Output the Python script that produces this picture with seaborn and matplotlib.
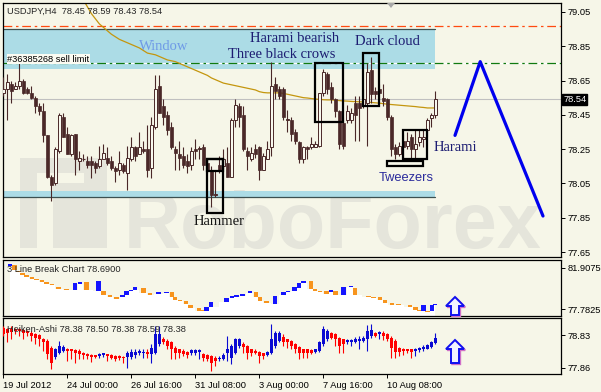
import numpy as np
import matplotlib
matplotlib.use("Agg")
import matplotlib.pyplot as plt
import matplotlib.transforms as mtransforms
from matplotlib.patches import Rectangle, Polygon
import seaborn as sns

sns.set_theme(style="white")
plt.rcParams["font.family"] = ["Liberation Sans", "DejaVu Sans"]

# ---------------- data ----------------
symbol_header = "USDJPY,H4  78.45 78.59 78.43 78.54"
date_labels = ["19 Jul 2012", "24 Jul 00:00", "26 Jul 16:00", "31 Jul 08:00",
               "3 Aug 00:00", "7 Aug 16:00", "10 Aug 08:00"]
date_bars = [0, 16, 32, 48, 64, 80, 96]

opens = [78.58, 78.60, 78.63, 78.60, 78.62, 78.65, 78.60, 78.58, 78.55, 78.50,
         78.47, 78.33, 78.09, 78.05, 78.24, 78.44, 78.34, 78.22, 78.34, 78.18,
         78.19, 78.18, 78.18, 78.17, 78.15, 78.19, 78.20, 78.18, 78.14, 78.13,
         78.16, 78.11, 78.19, 78.26, 78.22, 78.25, 78.25, 78.14, 78.38, 78.62,
         78.50, 78.45, 78.38, 78.25, 78.22, 78.21, 78.18, 78.16, 78.25, 78.25,
         78.26, 78.17, 78.13, 77.98, 78.16, 78.15, 78.17, 78.09, 78.42, 78.50,
         78.45, 78.24, 78.19, 78.25, 78.26, 78.13, 78.19, 78.26, 78.63, 78.60,
         78.60, 78.42, 78.42, 78.35, 78.29, 78.19, 78.26, 78.26, 78.26, 78.27,
         78.58, 78.69, 78.61, 78.54, 78.47, 78.40, 78.42, 78.42, 78.52, 78.52,
         78.50, 78.52, 78.71, 78.59, 78.60, 78.55, 78.54, 78.44, 78.26, 78.22,
         78.30, 78.27, 78.32, 78.25, 78.29, 78.31, 78.36, 78.43, 78.45]
highs = [78.67, 78.69, 78.65, 78.64, 78.76, 78.66, 78.61, 78.62, 78.56, 78.52,
         78.52, 78.33, 78.10, 78.26, 78.46, 78.46, 78.38, 78.34, 78.34, 78.24,
         78.22, 78.21, 78.21, 78.18, 78.27, 78.28, 78.26, 78.21, 78.15, 78.24,
         78.17, 78.27, 78.32, 78.27, 78.35, 78.30, 78.39, 78.44, 78.68, 78.68,
         78.54, 78.47, 78.41, 78.27, 78.30, 78.26, 78.22, 78.26, 78.31, 78.27,
         78.28, 78.19, 78.15, 78.13, 78.21, 78.25, 78.26, 78.43, 78.54, 78.52,
         78.50, 78.26, 78.26, 78.28, 78.27, 78.23, 78.30, 78.76, 78.67, 78.62,
         78.61, 78.48, 78.44, 78.37, 78.30, 78.27, 78.27, 78.32, 78.30, 78.58,
         78.72, 78.70, 78.64, 78.55, 78.48, 78.44, 78.51, 78.49, 78.56, 78.56,
         78.60, 78.75, 78.79, 78.61, 78.63, 78.63, 78.55, 78.45, 78.28, 78.29,
         78.34, 78.35, 78.34, 78.36, 78.36, 78.36, 78.43, 78.46, 78.59]
lows = [78.56, 78.42, 78.52, 78.60, 78.60, 78.57, 78.57, 78.54, 78.46, 78.45,
        78.29, 78.08, 77.95, 78.04, 78.23, 78.32, 78.22, 78.21, 78.10, 78.13,
        78.18, 78.14, 78.08, 78.11, 78.14, 78.19, 78.16, 78.13, 78.06, 78.10,
        78.11, 78.01, 78.18, 78.18, 78.22, 78.23, 78.09, 78.08, 78.37, 78.46,
        78.39, 78.33, 78.25, 78.13, 78.13, 78.14, 78.11, 78.13, 78.19, 78.19,
        78.13, 78.11, 77.91, 77.97, 78.11, 78.14, 78.09, 78.09, 78.38, 78.38,
        78.24, 78.13, 78.18, 78.20, 78.07, 78.13, 78.19, 78.21, 78.54, 78.54,
        78.42, 78.35, 78.30, 78.28, 78.17, 78.17, 78.19, 78.25, 78.26, 78.26,
        78.56, 78.57, 78.52, 78.44, 78.25, 78.25, 78.40, 78.40, 78.30, 78.30,
        78.49, 78.27, 78.52, 78.54, 78.54, 78.50, 78.42, 78.21, 78.19, 78.21,
        78.19, 78.25, 78.19, 78.19, 78.27, 78.26, 78.32, 78.38, 78.43]
closes = [78.60, 78.64, 78.59, 78.62, 78.65, 78.58, 78.58, 78.55, 78.50, 78.47,
          78.33, 78.09, 78.04, 78.25, 78.45, 78.32, 78.22, 78.33, 78.19, 78.20,
          78.19, 78.16, 78.16, 78.14, 78.19, 78.23, 78.17, 78.14, 78.12, 78.17,
          78.12, 78.20, 78.26, 78.21, 78.26, 78.24, 78.13, 78.39, 78.60, 78.46,
          78.44, 78.36, 78.26, 78.23, 78.20, 78.16, 78.15, 78.24, 78.24, 78.25,
          78.16, 78.12, 77.98, 77.99, 78.12, 78.19, 78.09, 78.42, 78.51, 78.44,
          78.25, 78.21, 78.23, 78.22, 78.13, 78.21, 78.25, 78.62, 78.59, 78.56,
          78.44, 78.42, 78.34, 78.30, 78.19, 78.26, 78.25, 78.28, 78.28, 78.58,
          78.70, 78.60, 78.54, 78.47, 78.28, 78.27, 78.47, 78.46, 78.45, 78.49,
          78.54, 78.70, 78.57, 78.57, 78.58, 78.53, 78.44, 78.25, 78.22, 78.27,
          78.26, 78.30, 78.25, 78.28, 78.32, 78.32, 78.42, 78.45, 78.54]

ma_first_bar = 20
ma_values = [79.12, 79.08, 79.04, 79.01, 78.98, 78.96, 78.94, 78.92, 78.905, 78.89,
             78.88, 78.87, 78.86, 78.85, 78.84, 78.825, 78.81, 78.805, 78.80, 78.79,
             78.78, 78.77, 78.765, 78.76, 78.75, 78.74, 78.73, 78.72, 78.71, 78.70,
             78.69, 78.68, 78.665, 78.655, 78.645, 78.635, 78.63, 78.625, 78.62, 78.615,
             78.61, 78.605, 78.60, 78.595, 78.585, 78.58, 78.578, 78.578, 78.578, 78.578,
             78.575, 78.57, 78.565, 78.56, 78.555, 78.55, 78.548, 78.545, 78.542, 78.54,
             78.538, 78.537, 78.537, 78.535, 78.533, 78.531, 78.53, 78.528, 78.527, 78.526,
             78.525, 78.524, 78.522, 78.52, 78.518, 78.515, 78.512, 78.51, 78.508, 78.506,
             78.504, 78.502, 78.50, 78.498, 78.495, 78.493, 78.49, 78.49, 78.49]

# levels and zones
stop_level = 78.97
order_level = 78.75
last_price = 78.54
window_zone = (78.72, 78.95)
support_zone = (77.97, 78.006)
zone_end_bar = 107.9

# pattern boxes: (first bar, last bar, low, high)
pattern_boxes = {
    "crows": (77.9, 84.9, 78.41, 78.75),
    "darkcloud": (89.9, 93.9, 78.50, 78.81),
    "hammer": (50.9, 54.9, 77.88, 78.19),
    "hammer_top": (50.9, 54.9, 78.12, 78.19),
    "tweezers": (95.8, 105.0, 78.15, 78.18),
    "harami": (100.0, 106.0, 78.19, 78.36),
}
forecast_bars = [112.9, 119.2, 134.9]
forecast_prices = [78.33, 78.76, 77.86]

# 3 Line Break bricks
lb_bar = [1.7, 2.8, 3.8, 4.8, 5.8, 7.1, 8.3, 9.6, 10.8, 12.1, 13.8, 15.8, 17.9, 19.2, 20.8,
          23.8, 25.0, 26.7, 28.3, 29.8, 30.8, 31.9, 32.9, 35.0, 36.7, 38.8, 40.8, 42.1, 42.9,
          44.2, 45.6, 46.8, 48.9, 49.8, 50.8, 51.9, 55.8, 57.1, 58.3, 59.8, 61.7, 63.2, 64.2,
          65.8, 67.9, 70.0, 71.2, 72.8, 73.9, 75.0, 76.9, 77.9, 79.2, 80.8, 81.9, 83.0, 85.0,
          86.9, 87.9, 91.3, 92.5, 94.2, 95.4, 97.1, 98.8, 101.7, 103.0, 104.0, 105.0, 106.0,
          107.1, 107.9]
lb_open = [82.08, 82.18, 81.64, 81.40, 81.17, 81.00, 80.83, 80.67, 80.50, 80.33, 80.00, 79.83,
           79.73, 80.33, 80.50, 79.63, 79.63, 79.16, 78.96, 78.96, 79.23, 79.56, 79.73, 79.90,
           79.39, 79.29, 79.36, 79.46, 78.96, 78.72, 78.55, 78.22, 77.88, 77.72, 77.62, 77.95,
           78.49, 78.89, 78.99, 79.12, 79.36, 79.46, 78.96, 78.55, 78.32, 79.16, 79.46, 79.56,
           79.90, 80.40, 80.63, 79.80, 79.63, 79.56, 79.46, 79.63, 79.16, 79.96, 79.90, 79.12,
           79.02, 78.96, 78.69, 78.39, 78.29, 78.15, 77.95, 77.72, 77.62, 77.62, 77.62, 78.19]
lb_close = [82.31, 81.74, 81.47, 81.24, 81.00, 80.83, 80.67, 80.50, 80.33, 80.16, 79.83, 79.66,
            80.40, 80.50, 79.73, 80.57, 79.23, 78.96, 78.82, 79.23, 79.56, 79.73, 79.96, 79.39,
            79.23, 79.46, 79.53, 78.96, 78.72, 78.55, 78.32, 77.88, 77.62, 77.55, 77.95, 78.45,
            78.89, 79.06, 79.16, 79.29, 79.56, 78.96, 78.55, 78.35, 79.12, 79.46, 79.63, 79.96,
            80.40, 80.63, 79.80, 79.56, 79.49, 79.29, 79.73, 79.23, 79.96, 80.13, 79.16, 78.96,
            78.89, 78.69, 78.39, 78.22, 78.15, 77.98, 77.68, 77.55, 78.15, 77.48, 78.22, 78.32]
lb_ticks = [81.9075, 77.7825]

# Heiken-Ashi
ha_open = [79.05, 79.00, 79.00, 79.02, 79.00, 78.98, 78.95, 78.90, 78.85, 78.82,
           78.72, 78.65, 78.46, 78.17, 78.29, 78.36, 78.43, 78.41, 78.39, 78.36,
           78.31, 78.26, 78.23, 78.23, 78.21, 78.23, 78.26, 78.23, 78.21, 78.21,
           78.19, 78.17, 78.19, 78.23, 78.29, 78.29, 78.33, 78.26, 78.31, 78.56,
           78.72, 78.65, 78.61, 78.46, 78.41, 78.36, 78.33, 78.29, 78.31, 78.34,
           78.26, 78.23, 78.21, 78.16, 78.12, 78.135, 78.31, 78.16, 78.31, 78.51,
           78.56, 78.51, 78.41, 78.36, 78.33, 78.29, 78.23, 78.31, 78.51, 78.65,
           78.78, 78.70, 78.65, 78.56, 78.49, 78.41, 78.41, 78.39, 78.33, 78.36,
           78.56, 78.70, 78.90, 78.85, 78.75, 78.70, 78.61, 78.61, 78.63, 78.64,
           78.65, 78.70, 78.80, 78.90, 78.85, 78.90, 78.85, 78.75, 78.65, 78.46,
           78.43, 78.41, 78.41, 78.36, 78.39, 78.41, 78.43, 78.49, 78.59]
ha_close = [78.85, 78.90, 78.92, 78.95, 78.94, 78.90, 78.88, 78.80, 78.75, 78.70,
            78.61, 78.26, 78.02, 78.41, 78.51, 78.49, 78.37, 78.35, 78.29, 78.27,
            78.23, 78.21, 78.19, 78.19, 78.26, 78.29, 78.21, 78.16, 78.12, 78.14,
            78.15, 78.29, 78.33, 78.33, 78.36, 78.33, 78.27, 78.46, 78.85, 78.85,
            78.61, 78.51, 78.41, 78.31, 78.29, 78.26, 78.23, 78.38, 78.38, 78.38,
            78.16, 78.12, 78.02, 78.07, 78.16, 78.23, 78.41, 78.51, 78.70, 78.70,
            78.49, 78.31, 78.29, 78.29, 78.21, 78.21, 78.33, 78.70, 78.90, 78.88,
            78.61, 78.61, 78.51, 78.41, 78.31, 78.31, 78.31, 78.31, 78.41, 78.61,
            79.00, 78.95, 78.75, 78.70, 78.51, 78.56, 78.68, 78.68, 78.70, 78.70,
            78.75, 78.95, 78.98, 78.80, 78.92, 78.80, 78.70, 78.46, 78.33, 78.33,
            78.35, 78.35, 78.33, 78.43, 78.46, 78.49, 78.53, 78.63, 78.75]
ha_high = [79.10, 79.05, 79.10, 79.05, 79.05, 79.00, 78.98, 78.95, 78.90, 78.85,
           78.75, 78.70, 78.51, 78.46, 78.65, 78.53, 78.46, 78.43, 78.41, 78.41,
           78.33, 78.29, 78.26, 78.25, 78.31, 78.31, 78.28, 78.26, 78.23, 78.23,
           78.21, 78.36, 78.41, 78.41, 78.41, 78.43, 78.41, 78.56, 79.10, 79.10,
           78.78, 78.70, 78.65, 78.51, 78.43, 78.41, 78.36, 78.41, 78.41, 78.41,
           78.29, 78.26, 78.23, 78.21, 78.21, 78.29, 78.80, 78.56, 78.75, 78.75,
           78.61, 78.53, 78.43, 78.41, 78.36, 78.31, 78.36, 79.14, 78.95, 78.95,
           78.85, 78.72, 78.68, 78.59, 78.51, 78.43, 78.43, 78.41, 78.43, 78.65,
           79.10, 79.00, 78.92, 78.88, 78.78, 78.72, 78.70, 78.72, 78.78, 78.80,
           78.80, 79.11, 79.14, 78.92, 78.95, 78.95, 78.88, 78.80, 78.70, 78.49,
           78.46, 78.43, 78.43, 78.46, 78.49, 78.53, 78.56, 78.65, 78.90]
ha_low = [78.80, 78.61, 78.70, 78.85, 78.80, 78.70, 78.80, 78.65, 78.56, 78.51,
          78.36, 78.12, 77.82, 78.13, 78.26, 78.33, 78.07, 78.12, 78.02, 78.12,
          78.12, 78.12, 78.04, 78.14, 78.16, 78.19, 78.07, 78.12, 78.07, 78.10,
          78.02, 77.87, 78.12, 78.16, 78.23, 78.16, 78.16, 78.02, 78.26, 78.51,
          78.56, 78.41, 78.12, 78.12, 78.16, 78.21, 78.16, 78.23, 78.25, 78.12,
          78.07, 78.07, 77.77, 77.92, 78.07, 78.10, 78.07, 77.97, 78.26, 78.46,
          78.31, 78.12, 78.21, 78.26, 78.02, 78.12, 78.21, 78.26, 78.46, 78.61,
          78.51, 78.46, 78.41, 78.31, 78.12, 78.16, 78.16, 78.26, 78.31, 78.33,
          78.51, 78.65, 78.70, 78.51, 78.31, 78.31, 78.56, 78.51, 78.59, 78.41,
          78.61, 78.36, 78.75, 78.78, 78.70, 78.68, 78.65, 78.16, 78.16, 78.21,
          78.23, 78.29, 78.16, 78.21, 78.33, 78.36, 78.41, 78.46, 78.56]
ha_ticks = [78.83, 77.86]
main_ticks = [79.05, 78.85, 78.65, 78.45, 78.25, 78.05, 77.85, 77.65]

# ---------------- style ----------------
BG = "#f6f6e8"
WM = "#e5e5db"
CANDLE = "#4a2828"
BULLFILL = "#f8f8ee"
BAND = "#acdce6"
NAVY = "#1c1c72"
W, H = 601, 392
XMIN, XMAX = -0.1, 139.4
FS = 6.7


def rect(x0, y0, x1, y1):
    return [x0 / W, 1 - y1 / H, (x1 - x0) / W, (y1 - y0) / H]


def P(x, y):
    return (x / W, 1 - y / H)


fig = plt.figure(figsize=(W / 100, H / 100), dpi=100, facecolor=BG)
ax = fig.add_axes(rect(3, 3, 561, 257))
ax1 = fig.add_axes(rect(3, 260, 561, 316))
ax2 = fig.add_axes(rect(3, 318, 561, 374))

for a in (ax, ax1, ax2):
    a.set_facecolor(BG)
    a.set_xlim(XMIN, XMAX)
    a.grid(False)
    for s in a.spines.values():
        s.set_visible(True)
        s.set_color("black")
        s.set_linewidth(0.9)
    a.yaxis.tick_right()
    a.tick_params(axis="y", direction="out", length=3, width=0.7, pad=2,
                  labelsize=FS, colors="black", right=True, left=False)
    a.set_xlabel("")
    a.set_ylabel("")

# ---------------- main panel ----------------
ax.set_ylim(77.621, 79.102)
bars = np.arange(len(closes))
o = np.array(opens); c = np.array(closes)
hi = np.array(highs); lo = np.array(lows)

# watermark
ax.text(0.2168, 0.035, "RoboForex", transform=ax.transAxes, fontsize=57,
        fontweight="bold", color=WM, ha="left", va="baseline", zorder=0.5,
        family=["Liberation Sans", "DejaVu Sans"])
ax.add_patch(Rectangle((0.0305, 0.035), 0.1555, 0.355, transform=ax.transAxes,
                       facecolor=WM, edgecolor="none", zorder=0.5))
ax.add_patch(Rectangle((0.061, 0.035), 0.0287, 0.296, transform=ax.transAxes,
                       facecolor=BG, edgecolor="none", zorder=0.6))
ax.add_patch(Rectangle((0.0897, 0.29), 0.055, 0.041, transform=ax.transAxes,
                       facecolor=BG, edgecolor="none", zorder=0.6))

# zones
ax.fill_between([XMIN, zone_end_bar], window_zone[0], window_zone[1], color=BAND, lw=0, zorder=1)
ax.plot([XMIN, zone_end_bar], [window_zone[1]] * 2, color="#3c5050", lw=0.9, zorder=1.1)
ax.fill_between([XMIN, zone_end_bar], support_zone[0], support_zone[1], color=BAND, lw=0, zorder=1)
ax.plot([XMIN, zone_end_bar], [support_zone[0]] * 2, color="#3c5050", lw=0.9, zorder=1.1)

# levels
ax.axhline(stop_level, color="#ff4a10", lw=0.9, ls=(0, (7, 3, 2, 3)), zorder=1.2)
ax.axhline(order_level, color="white", lw=0.9, zorder=1.2)
ax.axhline(order_level, color="#107a10", lw=0.9, ls=(0, (7, 3, 2, 3)), zorder=1.3)
ax.axhline(last_price, color="#c0c0c0", lw=0.8, zorder=1.2)

# candles
ax.vlines(bars, lo, hi, color=CANDLE, lw=0.8, zorder=3)
body_lo = np.minimum(o, c)
body_h = np.maximum(np.abs(c - o), 0.004)
bull = c >= o
ax.bar(bars[bull], body_h[bull], bottom=body_lo[bull], width=0.72,
       facecolor=BULLFILL, edgecolor=CANDLE, linewidth=0.7, zorder=4)
ax.bar(bars[~bull], body_h[~bull], bottom=body_lo[~bull], width=0.72,
       facecolor=CANDLE, edgecolor=CANDLE, linewidth=0.5, zorder=4)

# moving average
ma_bars = np.arange(ma_first_bar, ma_first_bar + len(ma_values))
sns.lineplot(x=ma_bars, y=ma_values, ax=ax, color="#c4960e", lw=0.9, zorder=2.5)

# pattern boxes
for key, (b0, b1, p0, p1) in pattern_boxes.items():
    ax.add_patch(Rectangle((b0, p0), b1 - b0, p1 - p0, fill=False,
                           edgecolor="black", lw=1.6, zorder=5))

# forecast zigzag
sns.lineplot(x=forecast_bars, y=forecast_prices, ax=ax, color="#0000ee", lw=2.3,
             sort=False, zorder=5)

serif = ["Liberation Serif", "DejaVu Serif"]
ax.text(40.2, 78.846, "Window", color="#6f9ae6", fontsize=10.5, family=serif,
        ha="center", va="center", zorder=6)
ax.text(72.8, 78.893, "Harami bearish", color=NAVY, fontsize=10.5, family=serif,
        ha="center", va="center", zorder=6)
ax.text(69.6, 78.800, "Three black crows", color=NAVY, fontsize=10.5, family=serif,
        ha="center", va="center", zorder=6)
ax.text(95.9, 78.875, "Dark cloud", color=NAVY, fontsize=10.5, family=serif,
        ha="center", va="center", zorder=6)
ax.text(53.9, 77.826, "Hammer", color="#141414", fontsize=10.5, family=serif,
        ha="center", va="center", zorder=6)
ax.text(112.9, 78.257, "Harami", color=NAVY, fontsize=10.5, family=serif,
        ha="center", va="center", zorder=6)
ax.text(100.6, 78.082, "Tweezers", color="#2b2b9c", fontsize=9.3,
        ha="center", va="center", zorder=6)

ax.text(1.0, 78.775, "#36385268 sell limit", fontsize=FS, color="black",
        ha="left", va="center", zorder=6,
        bbox=dict(facecolor="#fbfbf2", edgecolor="none", pad=0.6))

ax.set_yticks(main_ticks)
ax.set_yticklabels([f"{v:.2f}" for v in main_ticks])
ax.set_xticks([])
blend = mtransforms.blended_transform_factory(ax.transAxes, ax.transData)
ax.text(1.004, last_price, f"{last_price:.2f}", transform=blend, fontsize=FS,
        color="white", ha="left", va="center", zorder=7,
        bbox=dict(facecolor="black", edgecolor="black", pad=0.8))

# ---------------- 3 line break panel ----------------
ax1.set_ylim(77.079, 82.712)
lbo = np.array(lb_open); lbc = np.array(lb_close); lbx = np.array(lb_bar)
lb_low = np.minimum(lbo, lbc)
ax1.fill_between(lbx, lb_low, 77.079, step="mid", color="white", lw=0, zorder=1)
up = lbc > lbo
ax1.bar(lbx, np.abs(lbc - lbo), bottom=lb_low, width=1.1,
        color=np.where(up, "#1414ff", "#f7941d"), lw=0, zorder=3)
ax1.set_yticks(lb_ticks)
ax1.set_yticklabels([f"{v:.4f}" for v in lb_ticks])
ax1.set_xticks([])
ax1.text(0.007, 0.83, "3 Line Break Chart 78.6900", transform=ax1.transAxes,
         fontsize=FS, ha="left", va="center", zorder=6)

# ---------------- Heiken-Ashi panel ----------------
ax2.set_ylim(77.683, 79.33)
hao = np.array(ha_open); hac = np.array(ha_close)
hab = np.arange(len(hao))
hcol = np.where(hac >= hao, "#0a0ad2", "#ff0000")
ax2.vlines(hab, ha_low, ha_high, colors=hcol, lw=0.8, zorder=3)
ax2.bar(hab, np.maximum(np.abs(hac - hao), 0.01), bottom=np.minimum(hao, hac),
        width=0.8, color=hcol, lw=0, zorder=4)
ax2.set_yticks(ha_ticks)
ax2.set_yticklabels([f"{v:.2f}" for v in ha_ticks])
ax2.set_xticks(date_bars)
ax2.set_xticklabels(date_labels)
ax2.tick_params(axis="x", direction="out", length=3, width=0.7, pad=2,
                labelsize=FS, colors="black", bottom=True)
for lab in ax2.get_xticklabels():
    lab.set_ha("left")
ax2.text(0.007, 0.8, "Heiken-Ashi 78.38 78.50 78.38 78.59 78.38", transform=ax2.transAxes,
         fontsize=FS, ha="left", va="center", zorder=6)

# ---------------- decorations ----------------
fig.text(*P(7, 11), symbol_header, fontsize=FS, ha="left", va="center")


def up_arrow(cx, ty, by):
    pts = [(cx, ty), (cx + 9, ty + 9), (cx + 4, ty + 9), (cx + 4, by),
           (cx - 4, by), (cx - 4, ty + 9), (cx - 9, ty + 9)]
    sh = [P(x + 1.2, y + 1.2) for x, y in pts]
    fig.patches.append(Polygon(sh, closed=True, transform=fig.transFigure,
                               facecolor="none", edgecolor="#d070c8", lw=1.4, zorder=8))
    fig.patches.append(Polygon([P(x, y) for x, y in pts], closed=True,
                               transform=fig.transFigure, facecolor="#f2f2ff",
                               edgecolor="#1010f0", lw=1.4, zorder=9))


up_arrow(455, 297, 315)
up_arrow(455, 340, 363)
fig.patches.append(Polygon([P(387, 3), P(395, 3), P(391, 8)], closed=True,
                           transform=fig.transFigure, facecolor="#a8a8a8",
                           edgecolor="none", zorder=9))

fig.savefig("out.png", dpi=100, facecolor=BG)
